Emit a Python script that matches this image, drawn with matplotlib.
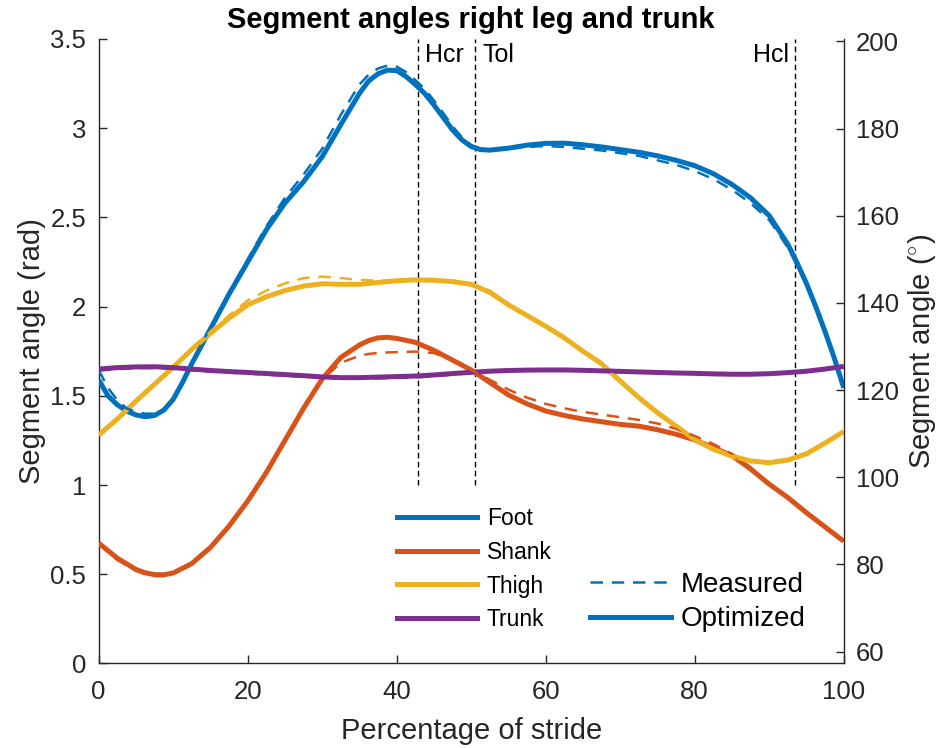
import matplotlib
matplotlib.use("Agg")
import matplotlib.pyplot as plt
from matplotlib.lines import Line2D
import numpy as np

plt.rcParams['font.family'] = ['Liberation Sans', 'DejaVu Sans']
plt.rcParams['mathtext.fontset'] = 'custom'
plt.rcParams['mathtext.rm'] = 'Liberation Sans'

# ---------------- data ----------------
foot_x = [0, 1.25, 2.5, 3.75, 5, 6.25, 7.5, 8.75, 10, 11.25, 12.5, 15, 17.5, 20, 22.5, 25,
          27.5, 30, 32.5, 35, 36.25, 37.5, 38.75, 40, 41.25, 42.5, 43.75, 45, 46.25, 47.5,
          48.75, 50, 51.25, 52.5, 55, 57.5, 60, 62.5, 65, 67.5, 70, 72.5, 75, 77.5, 80,
          82.5, 85, 87.5, 90, 91.25, 92.5, 93.75, 95, 96.25, 97.5, 98.75, 100]
foot_opt = [1.59, 1.50, 1.45, 1.415, 1.393, 1.383, 1.39, 1.42, 1.48, 1.575, 1.68, 1.875,
            2.07, 2.25, 2.43, 2.58, 2.70, 2.84, 3.02, 3.195, 3.265, 3.305, 3.325, 3.323,
            3.29, 3.245, 3.195, 3.13, 3.06, 2.99, 2.935, 2.897, 2.88, 2.877, 2.888, 2.905,
            2.915, 2.916, 2.907, 2.895, 2.88, 2.865, 2.845, 2.82, 2.79, 2.745, 2.685, 2.61,
            2.51, 2.43, 2.35, 2.245, 2.13, 2.00, 1.86, 1.71, 1.545]
foot_meas = [1.645, 1.545, 1.475, 1.43, 1.41, 1.40, 1.40, 1.425, 1.485, 1.58, 1.69, 1.885,
             2.08, 2.265, 2.45, 2.61, 2.74, 2.885, 3.075, 3.245, 3.30, 3.335, 3.35, 3.345,
             3.315, 3.27, 3.22, 3.155, 3.085, 3.01, 2.95, 2.905, 2.885, 2.88, 2.885, 2.895,
             2.90, 2.895, 2.885, 2.875, 2.86, 2.845, 2.82, 2.795, 2.76, 2.715, 2.655, 2.58,
             2.485, 2.41, 2.33, 2.23, 2.12, 1.995, 1.86, 1.715, 1.555]

shank_x = [0, 2.5, 5, 6.25, 7.5, 8.75, 10, 12.5, 15, 17.5, 20, 22.5, 25, 27.5, 30, 32.5,
           35, 36.25, 37.5, 38.75, 40, 42.5, 45, 47.5, 50, 52.5, 55, 57.5, 60, 62.5, 65,
           67.5, 70, 72.5, 75, 77.5, 80, 82.5, 85, 87.5, 90, 92.5, 95, 97.5, 100]
shank_opt = [0.675, 0.59, 0.527, 0.508, 0.498, 0.497, 0.507, 0.56, 0.65, 0.77, 0.91, 1.07,
             1.25, 1.43, 1.595, 1.715, 1.785, 1.81, 1.825, 1.828, 1.822, 1.80, 1.755, 1.70,
             1.645, 1.575, 1.505, 1.455, 1.415, 1.39, 1.37, 1.355, 1.34, 1.33, 1.31, 1.285,
             1.253, 1.21, 1.165, 1.09, 1.005, 0.93, 0.845, 0.765, 0.685]
shank_meas = [0.67, 0.58, 0.52, 0.50, 0.49, 0.49, 0.502, 0.556, 0.65, 0.77, 0.91, 1.07,
              1.25, 1.43, 1.59, 1.685, 1.725, 1.735, 1.74, 1.743, 1.745, 1.748, 1.74, 1.70,
              1.645, 1.59, 1.535, 1.49, 1.455, 1.43, 1.41, 1.395, 1.38, 1.365, 1.345, 1.315,
              1.275, 1.23, 1.175, 1.10, 1.01, 0.93, 0.845, 0.76, 0.68]

grid_x = [0, 2.5, 5, 7.5, 10, 12.5, 15, 17.5, 20, 22.5, 25, 27.5, 30, 32.5, 35, 37.5,
          40, 42.5, 45, 47.5, 50, 52.5, 55, 57.5, 60, 62.5, 65, 67.5, 70, 72.5, 75,
          77.5, 80, 82.5, 85, 87.5, 90, 92.5, 95, 97.5, 100]
thigh_opt = [1.28, 1.37, 1.47, 1.565, 1.66, 1.76, 1.85, 1.935, 2.01, 2.055, 2.09, 2.115,
             2.128, 2.125, 2.125, 2.135, 2.145, 2.15, 2.148, 2.14, 2.125, 2.08, 2.01, 1.95,
             1.89, 1.825, 1.75, 1.68, 1.583, 1.49, 1.406, 1.33, 1.255, 1.20, 1.162, 1.135,
             1.125, 1.14, 1.175, 1.235, 1.30]
thigh_meas = [1.28, 1.37, 1.47, 1.565, 1.665, 1.765, 1.86, 1.95, 2.035, 2.09, 2.13, 2.16,
              2.168, 2.16, 2.15, 2.145, 2.148, 2.15, 2.15, 2.145, 2.13, 2.09, 2.015, 1.95,
              1.89, 1.825, 1.75, 1.68, 1.583, 1.49, 1.406, 1.33, 1.26, 1.205, 1.165, 1.14,
              1.13, 1.145, 1.18, 1.24, 1.305]
trunk_opt = [1.65, 1.658, 1.662, 1.663, 1.658, 1.65, 1.642, 1.636, 1.631, 1.625, 1.619,
             1.613, 1.606, 1.602, 1.602, 1.605, 1.608, 1.611, 1.617, 1.625, 1.632, 1.638,
             1.642, 1.644, 1.645, 1.645, 1.643, 1.64, 1.637, 1.634, 1.631, 1.628, 1.626,
             1.623, 1.621, 1.621, 1.624, 1.63, 1.638, 1.65, 1.665]
trunk_meas = [1.642, 1.65, 1.655, 1.656, 1.651, 1.643, 1.636, 1.63, 1.625, 1.619, 1.613,
              1.607, 1.6, 1.596, 1.596, 1.598, 1.6, 1.603, 1.61, 1.619, 1.627, 1.634,
              1.639, 1.641, 1.642, 1.642, 1.64, 1.637, 1.634, 1.631, 1.628, 1.625, 1.623,
              1.62, 1.618, 1.618, 1.621, 1.627, 1.635, 1.647, 1.662]

segments = ['Foot', 'Shank', 'Thigh', 'Trunk']
colors = ['#0072BD', '#D95319', '#EDB120', '#7E2F8E']
xs = [foot_x, shank_x, grid_x, grid_x]
optimized = [foot_opt, shank_opt, thigh_opt, trunk_opt]
measured = [foot_meas, shank_meas, thigh_meas, trunk_meas]

event_pos = [42.8, 50.5, 93.4]
event_labels = ['Hcr', 'Tol', 'Hcl']
event_side = ['right', 'right', 'left']

x_ticks = [0, 20, 40, 60, 80, 100]
rad_ticks = [0, 0.5, 1, 1.5, 2, 2.5, 3, 3.5]
rad_ticklabels = ['0', '0.5', '1', '1.5', '2', '2.5', '3', '3.5']
deg_ticks = [60, 80, 100, 120, 140, 160, 180, 200]

# ---------------- figure ----------------
axc = '#262626'
fig = plt.figure(figsize=(9.45, 7.48), dpi=100)
ax = fig.add_axes([0.1044, 0.1130, 0.7884, 0.8349])

for c, x, yo, ym in zip(colors, xs, optimized, measured):
    ax.plot(x, yo, color=c, lw=3.6, solid_capstyle='butt', solid_joinstyle='round', zorder=3)
    ax.plot(x, ym, color=c, lw=1.8, dashes=(5, 3.5), zorder=4)

for xp, lab, side in zip(event_pos, event_labels, event_side):
    ax.plot([xp, xp], [1.0, 3.5], color='k', lw=1.0, dashes=(4, 2.5), zorder=2)
    if side == 'right':
        ax.text(xp + 1.0, 3.41, lab, ha='left', va='center', fontsize=18, color='k')
    else:
        ax.text(xp - 0.7, 3.41, lab, ha='right', va='center', fontsize=18, color='k')

ax.set_xlim(0, 100)
ax.set_ylim(0, 3.5)
ax.set_xticks(x_ticks)
ax.set_yticks(rad_ticks)
ax.set_yticklabels(rad_ticklabels)
ax.set_xlabel('Percentage of stride', fontsize=21, color=axc, labelpad=9)
ax.set_ylabel('Segment angle (rad)', fontsize=21, color=axc, labelpad=3)
ax.set_title('Segment angles right leg and trunk', fontsize=21, fontweight='bold',
             color='k', pad=8)
ax.tick_params(direction='in', length=6, width=1.0, colors=axc, labelsize=18.5)
ax.tick_params(axis='y', pad=9)
ax.tick_params(axis='x', pad=12)
for s in ['top', 'right']:
    ax.spines[s].set_visible(False)
for s in ['left', 'bottom']:
    ax.spines[s].set_color(axc)
    ax.spines[s].set_linewidth(1.0)

ax2 = ax.twinx()
ax2.set_ylim(np.degrees(1.0), np.degrees(3.5))
ax2.set_yticks(deg_ticks)
ax2.set_ylabel('Segment angle ($^{\\circ}$)', fontsize=21, color=axc, labelpad=5)
ax2.tick_params(direction='in', length=6, width=1.0, colors=axc, labelsize=18.5, pad=9)
for s in ['top', 'left', 'bottom']:
    ax2.spines[s].set_visible(False)
ax2.spines['right'].set_color(axc)
ax2.spines['right'].set_linewidth(1.0)

# legends
seg_handles = [Line2D([], [], color=c, lw=3.6) for c in colors]
leg1 = ax.legend(seg_handles, segments, loc='upper left', bbox_to_anchor=(0.4004, 0.2506),
                 frameon=False, fontsize=16.5, handlelength=3.5, handletextpad=0.42,
                 labelspacing=0.47, borderpad=0, borderaxespad=0)
ax.add_artist(leg1)
style_handles = [Line2D([], [], color=colors[0], lw=1.8, dashes=(5, 3.5)),
                 Line2D([], [], color=colors[0], lw=3.6)]
ax.legend(style_handles, ['Measured', 'Optimized'], loc='upper left',
          bbox_to_anchor=(0.6595, 0.1465), frameon=False, fontsize=20, handlelength=2.9,
          handletextpad=0.36, labelspacing=0.30, borderpad=0, borderaxespad=0)

fig.savefig('out.png', dpi=100)
